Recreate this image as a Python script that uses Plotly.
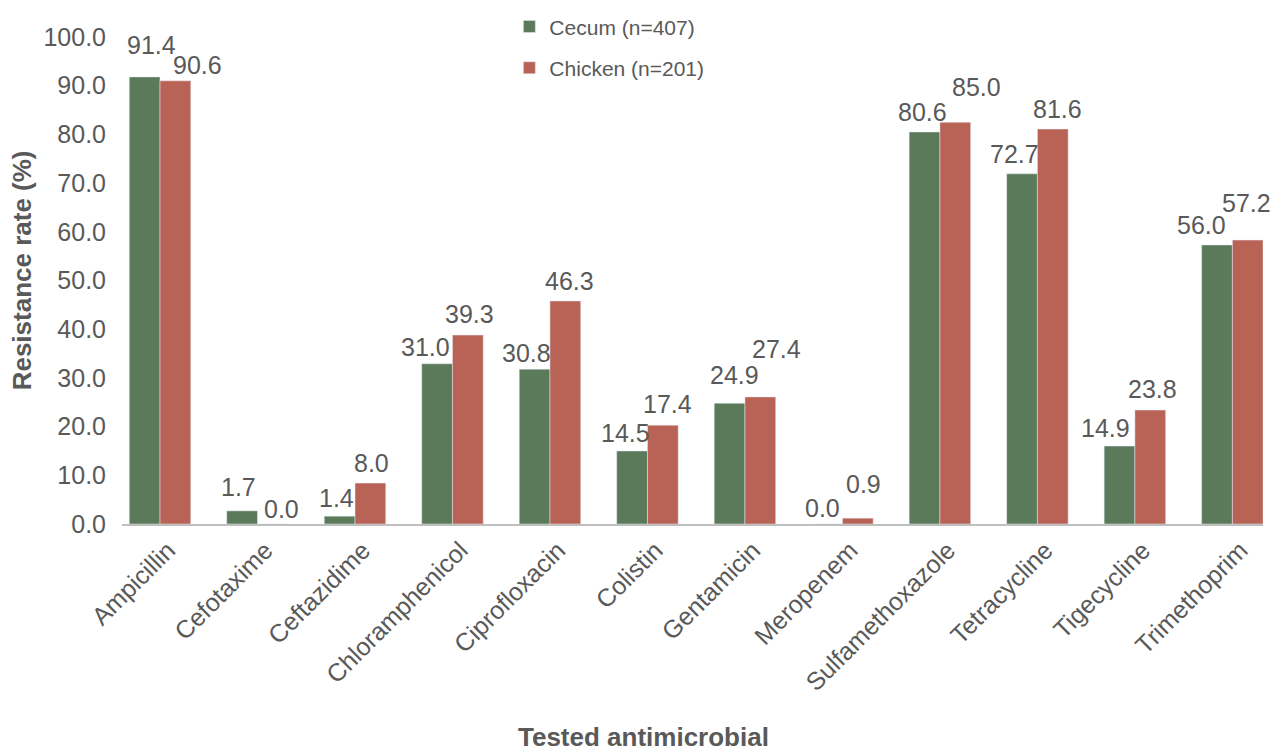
import plotly.graph_objects as go

categories = ["Ampicillin", "Cefotaxime", "Ceftazidime", "Chloramphenicol", "Ciprofloxacin",
              "Colistin", "Gentamicin", "Meropenem", "Sulfamethoxazole", "Tetracycline",
              "Tigecycline", "Trimethoprim"]

# bar heights as drawn in the picture (%)
cecum_bar = [91.8, 2.7, 1.6, 32.9, 31.8, 15.0, 24.8, 0.0, 80.5, 71.9, 16.0, 57.3]
chicken_bar = [91.0, 0.0, 8.4, 38.8, 45.8, 20.3, 26.1, 1.2, 82.5, 81.1, 23.4, 58.3]

# printed data labels (%)
cecum_labels = ["91.4", "1.7", "1.4", "31.0", "30.8", "14.5", "24.9", "0.0", "80.6", "72.7", "14.9", "56.0"]
chicken_labels = ["90.6", "0.0", "8.0", "39.3", "46.3", "17.4", "27.4", "0.9", "85.0", "81.6", "23.8", "57.2"]

y_ticks = [0, 10, 20, 30, 40, 50, 60, 70, 80, 90, 100]

# label placement nudges (pixels) used to keep the labels from colliding
cecum_dx = [7, -4, -3, -12, -8, -7, 5, -5, -2, -8, -14, -15]
cecum_lift = [22, 14, 8, 7, 6, 8, 18, 6, 10, 10, 8, 10]
chicken_dx = [22, 9, 1, 2, 4, 5, 16, 6, 21, 5, 2, -1]
chicken_lift = [6, 5, 10, 11, 10, 11, 38, 24, 25, 10, 11, 27]

GREEN = "#5A7A5A"
RED = "#B96357"
GREY = "#595959"
FONT = "Liberation Sans, Arial, Helvetica, sans-serif"
HALF_BAR_PX = 15.4
LABEL_SIZE = 25

fig = go.Figure()
fig.add_trace(go.Bar(x=categories, y=cecum_bar, name="Cecum (n=407)", marker_color=GREEN,
                     legendgroup="a"))
fig.add_trace(go.Bar(x=categories, y=chicken_bar, name="Chicken (n=201)", marker_color=RED,
                     legendgroup="b"))

annotations = []
for vals, labels, dxs, lifts, side in [
        (cecum_bar, cecum_labels, cecum_dx, cecum_lift, -1),
        (chicken_bar, chicken_labels, chicken_dx, chicken_lift, 1)]:
    for cat, v, lab, dx, lift in zip(categories, vals, labels, dxs, lifts):
        annotations.append(dict(
            x=cat, y=v, xref="x", yref="y", text=lab, showarrow=False,
            xanchor="center", yanchor="bottom",
            xshift=side * HALF_BAR_PX + dx, yshift=lift - 6,
            font=dict(size=LABEL_SIZE, color=GREY, family=FONT),
        ))

annotations += [
    dict(text="<b>Resistance rate (%)</b>", xref="paper", yref="paper", x=-0.088, y=0.52,
         textangle=-90, showarrow=False, font=dict(size=26, color=GREY, family=FONT),
         xanchor="center", yanchor="middle"),
    dict(text="<b>Tested antimicrobial</b>", xref="paper", yref="paper", x=0.457, y=-0.438,
         showarrow=False, font=dict(size=26, color=GREY, family=FONT),
         xanchor="center", yanchor="middle"),
]

fig.update_layout(
    width=1276, height=754,
    margin=dict(l=122, r=13, t=37, b=230, autoexpand=False),
    paper_bgcolor="white", plot_bgcolor="white",
    barmode="group", bargap=0.369, bargroupgap=0,
    font=dict(family=FONT, color=GREY, size=24),
    showlegend=True,
    legend=dict(x=0.3395, xanchor="left", y=1.063, yanchor="top",
                font=dict(size=21, color=GREY, family=FONT),
                tracegroupgap=11, bgcolor="rgba(0,0,0,0)"),
    xaxis=dict(range=[-0.39, 11.314], showline=True, linecolor="#BFBFBF", linewidth=1.5,
               tickangle=-45, tickfont=dict(size=25, color=GREY), ticks="",
               ticklabelshift=8, showgrid=False, automargin=False),
    yaxis=dict(range=[0, 100], tickvals=y_ticks, tickformat=".1f", showgrid=False,
               zeroline=False, showline=False, tickfont=dict(size=25, color=GREY),
               ticklabelstandoff=15, automargin=False),
    annotations=annotations,
)

fig.write_html("out.html", config={"displayModeBar": False},
               post_script="document.body.style.margin='0px';")
